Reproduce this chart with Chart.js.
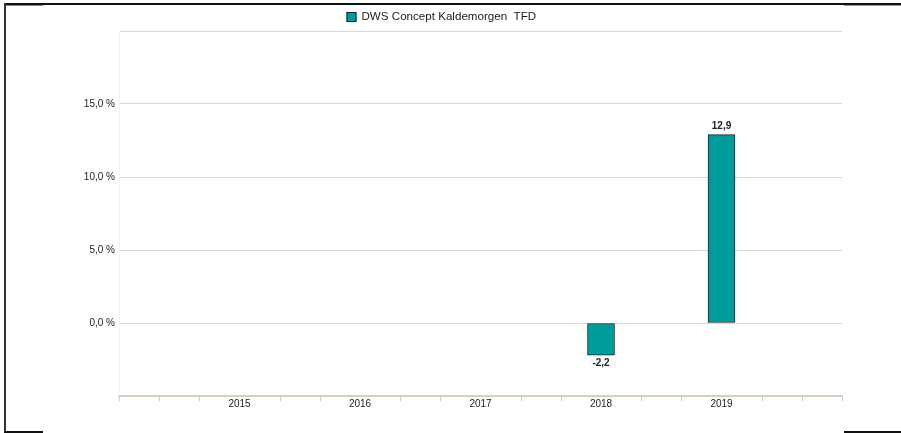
<!DOCTYPE html>
<html>
<head>
<meta charset="utf-8">
<script src="https://cdn.jsdelivr.net/npm/chart.js@4"></script>
<style>
  html, body { margin: 0; padding: 0; background: #fff; }
  #wrap { position: relative; width: 901px; height: 433px; }
  .ln { position: absolute; }
</style>
</head>
<body>
<div id="wrap">
  <canvas id="perfChart" width="901" height="433"></canvas>
  <!-- screenshot frame remnants -->
  <div class="ln" style="left:4px;top:3px;width:897px;height:2px;background:#111;"></div>
  <div class="ln" style="left:6px;top:5px;width:37px;height:1px;background:#888;"></div>
  <div class="ln" style="left:844px;top:5px;width:57px;height:1px;background:#999;"></div>
  <div class="ln" style="left:4px;top:3px;width:2px;height:429px;background:#333;"></div>
  <div class="ln" style="left:4px;top:431px;width:39px;height:2px;background:#111;"></div>
  <div class="ln" style="left:844px;top:431px;width:57px;height:2px;background:#111;"></div>
</div>
<script>
// Jahre (erste und letzte Kategorie leer)
const years = ['', '2015', '2016', '2017', '2018', '2019', ''];
const fundName = 'DWS Concept Kaldemorgen  TFD';
const returns = [null, null, null, null, -2.2, 12.9, null];
const yTicks = [0, 5, 10, 15];

const barColor = '#009b9b';
const barBorder = '#122828';
const gridColor = '#dbd6cc';

function fmt(v, digits) {
    return v.toFixed(digits).replace('.', ',');
}

// Legende oben
const legendPlugin = {
    id: 'topLegend',
    afterDraw(chart) {
        const ctx = chart.ctx;
        const ds = chart.data.datasets[0];
        ctx.save();
        ctx.font = '11.6px "Liberation Sans", Arial, sans-serif';
        const x0 = chart.width / 2 - 104;
        const y0 = 17;
        ctx.fillStyle = barColor;
        ctx.fillRect(x0, y0 - 5, 10, 10);
        ctx.strokeStyle = barBorder;
        ctx.lineWidth = 1;
        ctx.strokeRect(x0 + 0.5, y0 - 4.5, 9, 9);
        ctx.fillStyle = '#1a1a1a';
        ctx.textBaseline = 'middle';
        ctx.fillText(ds.label, x0 + 15, y0);
        ctx.restore();
    }
};

// Werte an den Balken
const valueLabels = {
    id: 'valueLabels',
    afterDatasetsDraw(chart) {
        const ctx = chart.ctx;
        const meta = chart.getDatasetMeta(0);
        ctx.save();
        ctx.font = 'bold 10px "Liberation Sans", Arial, sans-serif';
        ctx.fillStyle = '#222';
        ctx.textAlign = 'center';
        meta.data.forEach((bar, i) => {
            const v = returns[i];
            if (v === null) return;
            if (v >= 0) {
                ctx.textBaseline = 'bottom';
                ctx.fillText(fmt(v, 1), bar.x, bar.y - 3);
            } else {
                ctx.textBaseline = 'top';
                ctx.fillText(fmt(v, 1), bar.x, bar.y + 3);
            }
        });
        ctx.restore();
    }
};

// kleine Teilstriche an der x-Achse
const axisTicks = {
    id: 'axisTicks',
    afterDraw(chart) {
        const ctx = chart.ctx;
        const xs = chart.scales.x;
        const y = xs.top;
        const n = (years.length - 1) * 3;
        ctx.save();
        ctx.strokeStyle = '#d2ccc0';
        ctx.lineWidth = 1;
        for (let k = 0; k <= n; k++) {
            if (k % 3 === 0 && k !== 0 && k !== n) continue;
            const x = Math.round(xs.getPixelForValue(k / 3)) + 0.5;
            ctx.beginPath();
            ctx.moveTo(x, y);
            ctx.lineTo(x, y + 5);
            ctx.stroke();
        }
        ctx.restore();
    }
};

const ctx = document.getElementById('perfChart').getContext('2d');
const perfChart = new Chart(ctx, {
    type: 'bar',
    data: {
        labels: years,
        datasets: [{
            label: fundName,
            data: returns,
            backgroundColor: barColor,
            borderColor: barBorder,
            borderWidth: 1,
            borderSkipped: false,
            barThickness: 27
        }]
    },
    options: {
        responsive: false,
        animation: false,
        layout: { padding: { top: 31, right: 59, left: 0, bottom: 0 } },
        scales: {
            x: {
                offset: false,
                grid: { display: false, drawTicks: false },
                border: { display: true, color: '#d6d0c3', width: 2 },
                ticks: {
                    color: '#222',
                    font: { size: 10, family: '"Liberation Sans", Arial, sans-serif' },
                    padding: 2,
                    maxRotation: 0,
                    autoSkip: false
                },
                afterFit(scale) { scale.height = 37; }
            },
            y: {
                min: -5,
                max: 20,
                grid: { color: gridColor, drawTicks: false },
                border: { display: true, color: '#f3f3f3' },
                ticks: {
                    stepSize: 5,
                    color: '#222',
                    padding: 4,
                    font: { size: 10, family: '"Liberation Sans", Arial, sans-serif' },
                    callback: v => yTicks.includes(v) ? fmt(v, 1) + ' %' : ''
                },
                afterFit(scale) { scale.width = 119; }
            }
        },
        plugins: {
            legend: { display: false },
            tooltip: { enabled: false }
        }
    },
    plugins: [legendPlugin, valueLabels, axisTicks]
});
</script>
</body>
</html>
